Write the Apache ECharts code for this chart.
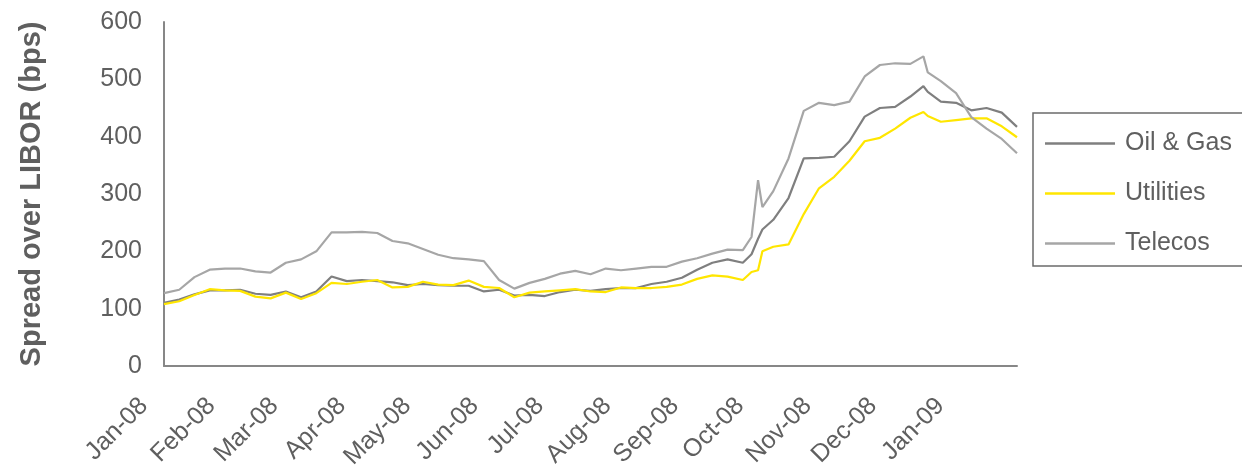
<!DOCTYPE html>
<html>
<head>
<meta charset="utf-8">
<script src="https://cdn.jsdelivr.net/npm/echarts@6/dist/echarts.min.js"></script>
<style>
html,body{margin:0;padding:0;background:#fff;}
#chart{width:1242px;height:475px;}
</style>
</head>
<body>
<div id="chart"></div>
<script>
const dates = ['2008-01-01','2008-01-08','2008-01-15','2008-01-22','2008-01-29','2008-02-05','2008-02-12','2008-02-19','2008-02-26','2008-03-04','2008-03-11','2008-03-18','2008-03-25','2008-04-01','2008-04-08','2008-04-15','2008-04-22','2008-04-29','2008-05-06','2008-05-13','2008-05-20','2008-05-27','2008-06-03','2008-06-10','2008-06-17','2008-06-24','2008-07-01','2008-07-08','2008-07-15','2008-07-22','2008-07-29','2008-08-05','2008-08-12','2008-08-19','2008-08-26','2008-09-02','2008-09-09','2008-09-16','2008-09-23','2008-09-27','2008-09-30','2008-10-02','2008-10-07','2008-10-14','2008-10-21','2008-10-28','2008-11-04','2008-11-11','2008-11-18','2008-11-25','2008-12-02','2008-12-09','2008-12-15','2008-12-17','2008-12-23','2008-12-30','2009-01-06','2009-01-13','2009-01-20','2009-01-27'];
const oilGas = [110,116,125,132,132,133,126,124,130,120,130,156,148,150,148,146,141,143,141,140,140,130,133,123,124,122,129,133,131,134,136,136,143,147,154,168,180,186,180,195,222,238,255,293,362,363,365,392,435,450,452,470,488,478,461,459,446,450,442,417];
const utilities = [108,113,124,134,132,131,121,118,128,117,127,145,143,147,150,137,138,147,142,141,149,138,136,120,128,130,132,134,130,129,137,136,136,138,142,152,158,156,150,164,167,200,208,212,265,310,330,358,392,398,414,433,443,436,426,429,432,432,418,399];
const telecos = [127,133,155,168,170,170,165,163,180,186,200,233,233,234,232,218,214,204,194,188,186,183,150,135,145,152,161,166,160,170,167,170,173,173,182,188,196,203,202,225,324,277,305,362,445,459,455,461,505,525,528,527,540,512,497,476,434,414,396,371];
const seriesNames = ['Oil & Gas','Utilities','Telecos'];
const monthNames = ['Jan','Feb','Mar','Apr','May','Jun','Jul','Aug','Sep','Oct','Nov','Dec'];
const axisMin = '2008-01-01';
const axisMax = '2009-01-27';

const pair = arr => arr.map((v,i)=>[dates[i], v]);
const font = "'Liberation Sans', Arial, sans-serif";
const textColor = '#5f5f5f';
const axisColor = '#878787';

const chart = echarts.init(document.getElementById('chart'));
chart.setOption({
  animation: false,
  backgroundColor: '#fff',
  textStyle: { fontFamily: font },
  grid: [
    { left: 164, right: 225, top: 22, bottom: 109 },
    { left: 144, right: 245, top: 22, bottom: 109 }
  ],
  xAxis: [
    { type: 'time', gridIndex: 0, min: axisMin, max: axisMax,
      axisLine: { show: true, lineStyle: { color: axisColor, width: 2 } },
      axisTick: { show: false }, axisLabel: { show: false }, splitLine: { show: false } },
    { type: 'time', gridIndex: 1, min: axisMin, max: axisMax,
      splitNumber: 13, minInterval: 28*86400000, maxInterval: 31*86400000,
      axisLine: { show: false }, axisTick: { show: false }, splitLine: { show: false },
      axisLabel: { show: true, rotate: 45, margin: 36, fontSize: 25, color: textColor, fontFamily: font,
        showMaxLabel: false, hideOverlap: false,
        formatter: function (v) { const d = new Date(v); return monthNames[d.getMonth()] + '-' + String(d.getFullYear()).slice(2); } } }
  ],
  yAxis: [
    { type: 'value', gridIndex: 0, min: 0, max: 600, interval: 100,
      name: 'Spread over LIBOR (bps)', nameLocation: 'middle', nameGap: 118,
      nameTextStyle: { fontSize: 29, fontWeight: 'bold', color: textColor, fontFamily: font },
      axisLine: { show: true, lineStyle: { color: axisColor, width: 2 } },
      axisTick: { show: false }, splitLine: { show: false },
      axisLabel: { fontSize: 25, color: textColor, margin: 22, fontFamily: font } },
    { type: 'value', gridIndex: 1, min: 0, max: 600, show: false }
  ],
  legend: {
    orient: 'vertical', left: 1033, top: 113,
    icon: 'rect', itemWidth: 70, itemHeight: 2.5, itemGap: 25,
    padding: [18, 20, 10, 12],
    borderColor: '#6b6b6b', borderWidth: 1.5,
    textStyle: { fontSize: 25, color: textColor, fontFamily: font, padding: [0,0,0,5] },
    data: seriesNames
  },
  series: [
    { name: seriesNames[0], type: 'line', xAxisIndex: 0, yAxisIndex: 0, data: pair(oilGas), symbol: 'none',
      lineStyle: { color: '#7f7f7f', width: 2.2 }, itemStyle: { color: '#7f7f7f' } },
    { name: seriesNames[1], type: 'line', xAxisIndex: 0, yAxisIndex: 0, data: pair(utilities), symbol: 'none',
      lineStyle: { color: '#ffe600', width: 2.2 }, itemStyle: { color: '#ffe600' } },
    { name: seriesNames[2], type: 'line', xAxisIndex: 0, yAxisIndex: 0, data: pair(telecos), symbol: 'none',
      lineStyle: { color: '#a6a6a6', width: 2.2 }, itemStyle: { color: '#a6a6a6' } }
  ]
});
</script>
</body>
</html>
